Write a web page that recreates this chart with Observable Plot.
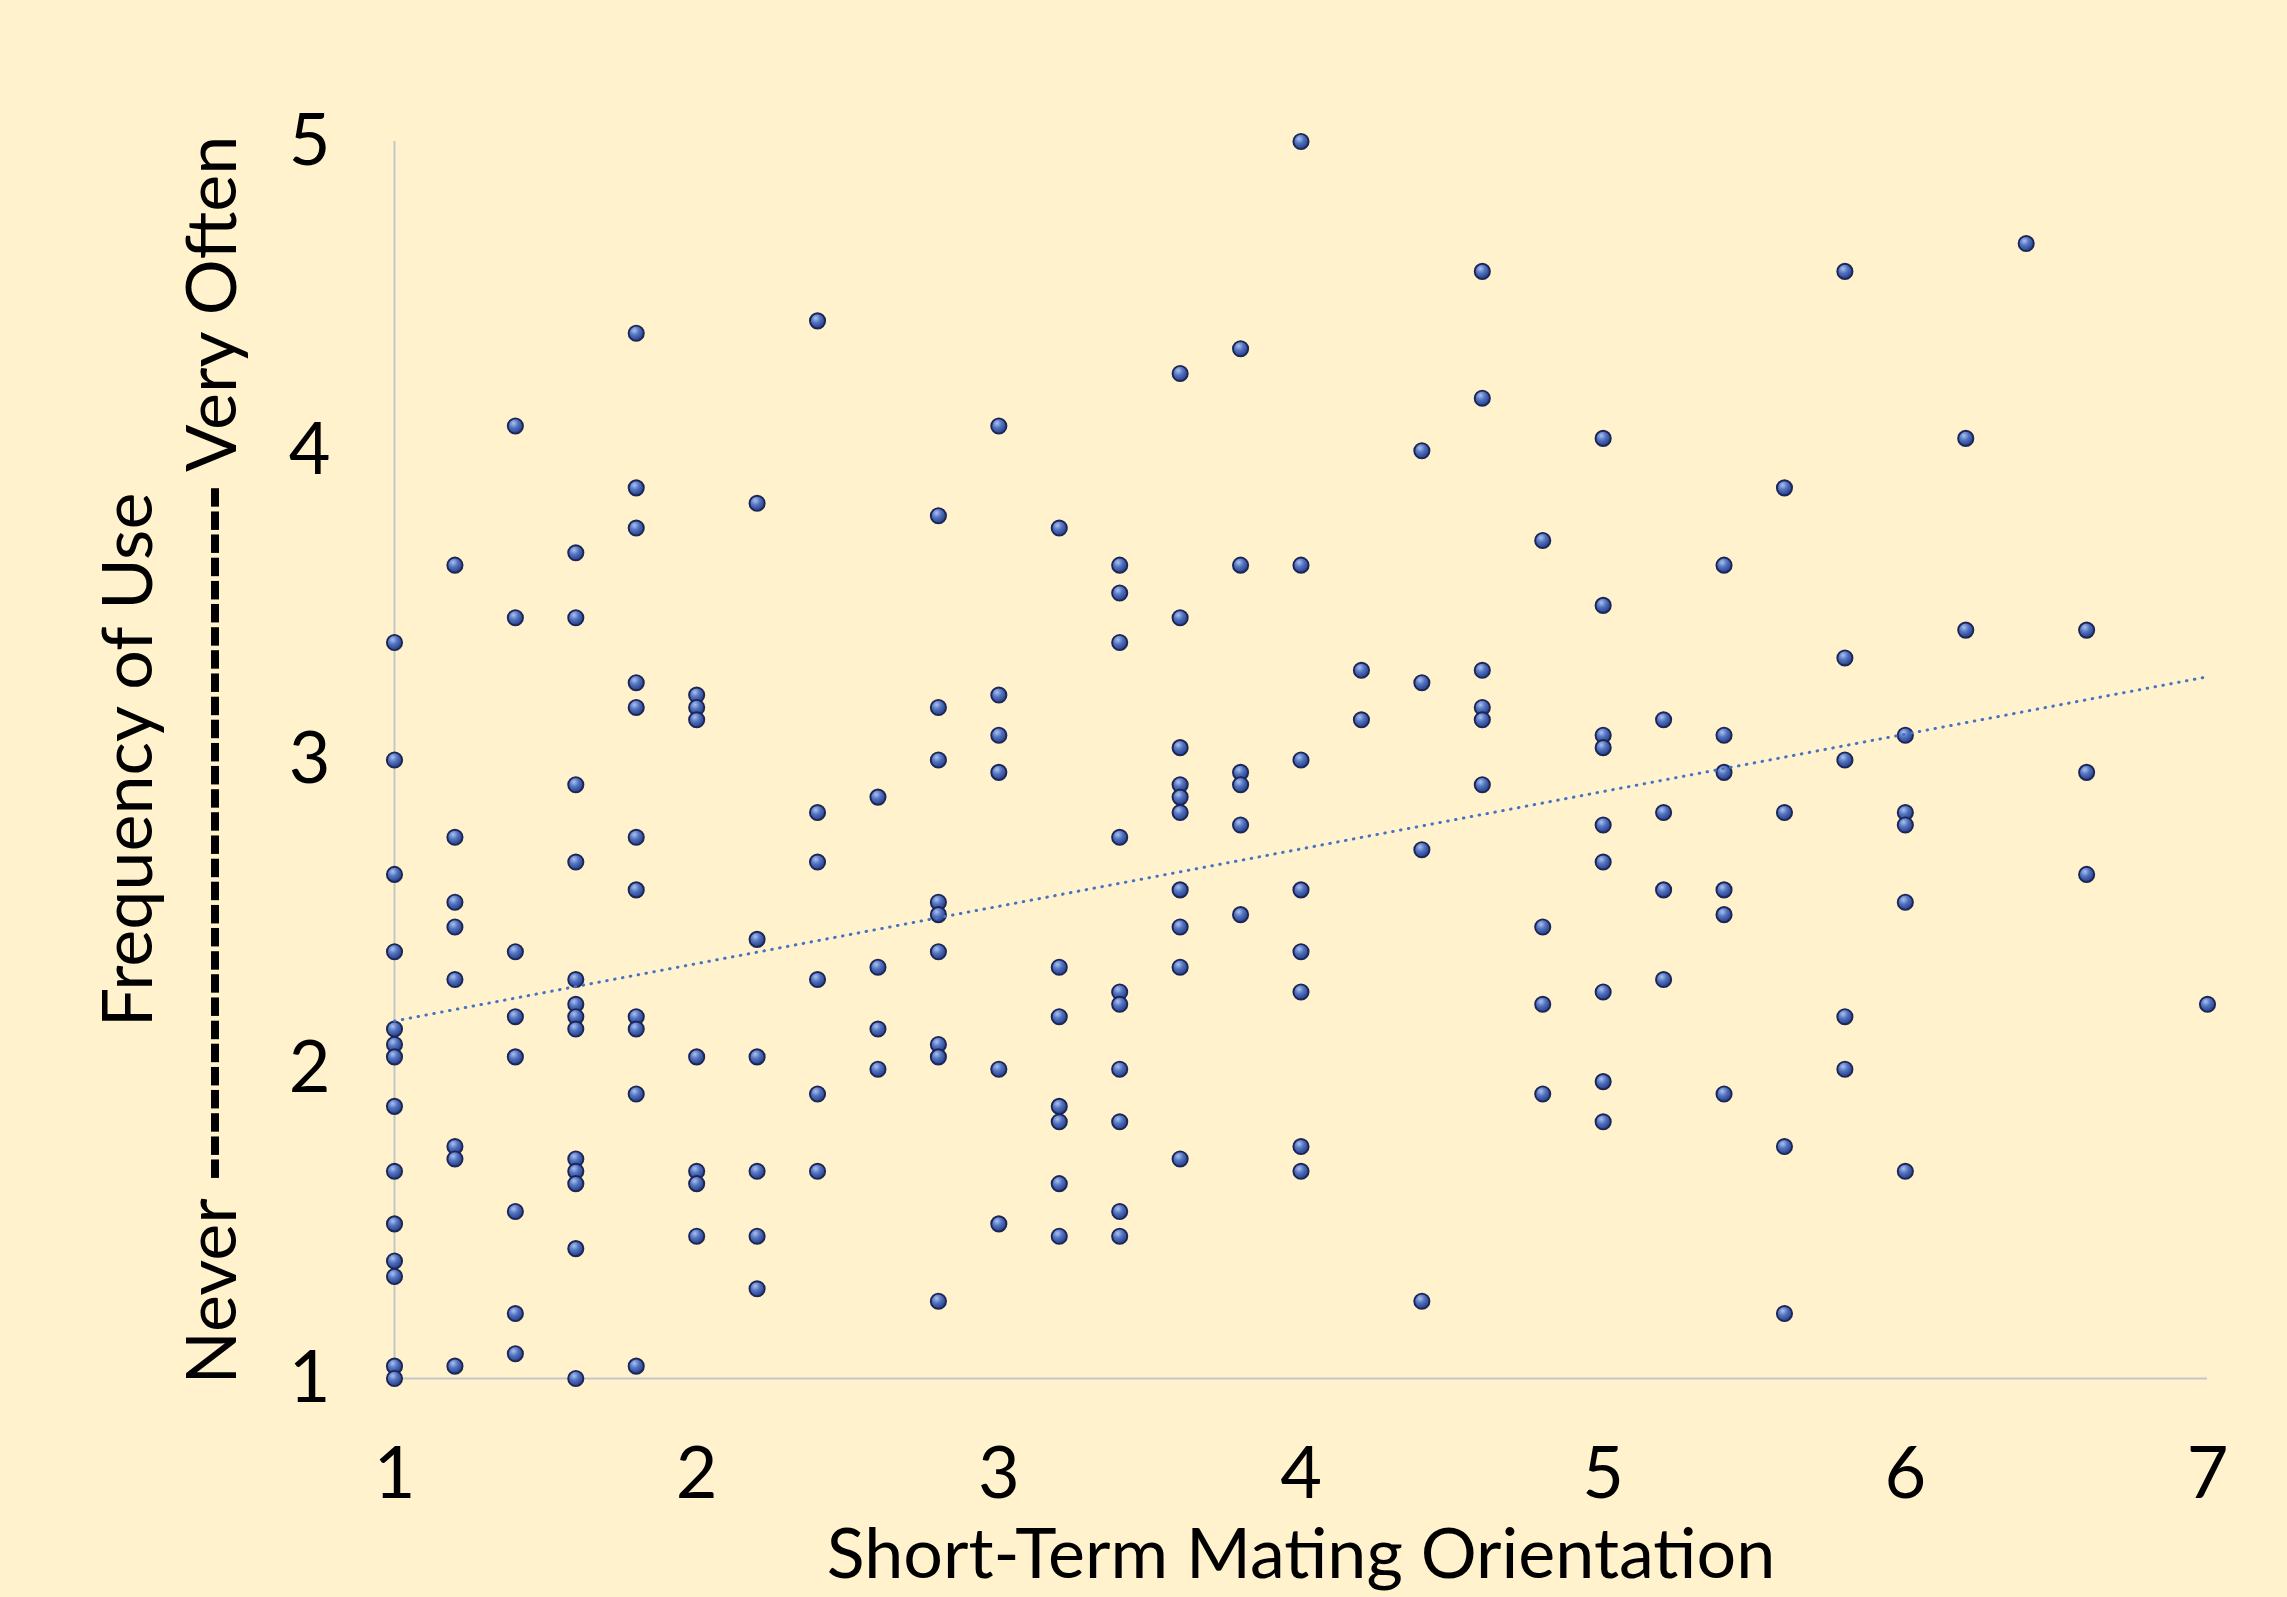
<!DOCTYPE html>
<html><head><meta charset="utf-8">
<script src="https://cdn.jsdelivr.net/npm/d3@7"></script>
<script src="https://cdn.jsdelivr.net/npm/@observablehq/plot@0.6"></script>
<style>
html,body{margin:0;padding:0;background:#FFF2CC;overflow:hidden;}
#chart svg{display:block}
</style></head><body><div id="chart"></div>
<script>
// Short-term mating orientation levels (x) and frequency-of-use scores (y) at each level
const stoLevels = [1, 1.2, 1.4, 1.6, 1.8, 2.0, 2.2, 2.4, 2.6, 2.8, 3.0, 3.2, 3.4, 3.6, 3.8, 4.0, 4.2, 4.4, 4.6, 4.8, 5.0, 5.2, 5.4, 5.6, 5.8, 6.0, 6.2, 6.4, 6.6, 7.0];
const frequencyByLevel = [
  [3.38, 3.0, 2.63, 2.38, 2.13, 2.08, 2.04, 1.88, 1.67, 1.50, 1.38, 1.33, 1.04, 1.0],
  [3.63, 2.75, 2.54, 2.46, 2.29, 1.75, 1.71, 1.04],
  [4.08, 3.46, 2.38, 2.17, 2.04, 1.54, 1.21, 1.08],
  [3.67, 3.46, 2.92, 2.67, 2.29, 2.21, 2.17, 2.13, 1.71, 1.67, 1.63, 1.42, 1.0],
  [4.38, 3.88, 3.75, 3.25, 3.17, 2.75, 2.58, 2.17, 2.13, 1.92, 1.04],
  [3.21, 3.17, 3.13, 2.04, 1.67, 1.63, 1.46],
  [3.83, 2.42, 2.04, 1.67, 1.46, 1.29],
  [4.42, 2.83, 2.67, 2.29, 1.92, 1.67],
  [2.88, 2.33, 2.13, 2.0],
  [3.79, 3.17, 3.0, 2.54, 2.50, 2.38, 2.08, 2.04, 1.25],
  [4.08, 3.21, 3.08, 2.96, 2.0, 1.50],
  [3.75, 2.33, 2.17, 1.88, 1.83, 1.63, 1.46],
  [3.63, 3.54, 3.38, 2.75, 2.25, 2.21, 2.0, 1.83, 1.54, 1.46],
  [4.25, 3.46, 3.04, 2.92, 2.88, 2.83, 2.58, 2.46, 2.33, 1.71],
  [4.33, 3.63, 2.96, 2.92, 2.79, 2.50],
  [5.0, 3.63, 3.0, 2.58, 2.38, 2.25, 1.75, 1.67],
  [3.29, 3.13],
  [4.0, 3.25, 2.71, 1.25],
  [4.58, 4.17, 3.29, 3.17, 3.13, 2.92],
  [3.71, 2.46, 2.21, 1.92],
  [4.04, 3.50, 3.08, 3.04, 2.79, 2.67, 2.25, 1.96, 1.83],
  [3.13, 2.83, 2.58, 2.29],
  [3.63, 3.08, 2.96, 2.58, 2.50, 1.92],
  [3.88, 2.83, 1.75, 1.21],
  [4.58, 3.33, 3.0, 2.17, 2.0],
  [3.08, 2.83, 2.79, 2.54, 1.67],
  [4.04, 3.42],
  [4.67],
  [3.42, 2.96, 2.63],
  [2.21]
];
// Trend line as drawn in the reference (read at its two ends)
const trendX = [1, 7];
const trendY = [2.156, 3.269];
const xTicks = [1, 2, 3, 4, 5, 6, 7];
const yTicks = [1, 2, 3, 4, 5];
const xTitle = "Short-Term Mating Orientation";
const yTitle = "Frequency of Use";
const yScaleWords = ["Never", "Very Often"];
const dashRun = "------------------------------";
const yScaleLabel = yScaleWords[0] + " " + dashRun + " " + yScaleWords[1];

const points = stoLevels.flatMap((x, i) => frequencyByLevel[i].map(y => ({x, y})));
const trend = trendX.map((x, i) => ({x, y: trendY[i]}));

const chart = Plot.plot({
  width: 2287,
  height: 1597,
  marginLeft: 394,
  marginRight: 80,
  marginTop: 141,
  marginBottom: 219,
  style: {background: "#FFF2CC", fontFamily: "Lato, 'Open Sans', sans-serif", color: "#000", overflow: "hidden"},
  x: {domain: [1, 7]},
  y: {domain: [1, 5]},
  marks: [
    Plot.ruleX([1], {stroke: "#C6C6C6", strokeWidth: 2}),
    Plot.ruleY([1], {stroke: "#C6C6CE", strokeWidth: 2}),
    Plot.dot(points, {x: "x", y: "y", r: 7.6, fill: "url(#ball)", stroke: "#1B2656", strokeWidth: 1.9}),
    Plot.line(trend, {x: "x", y: "y", stroke: "#4472C4", strokeWidth: 3, strokeDasharray: "0.5 7.5", strokeLinecap: "round"}),
    Plot.axisX(xTicks, {tickSize: 0, tickPadding: 68, fontSize: 72, tickFormat: d => String(d), label: null}),
    Plot.axisY(yTicks, {tickSize: 0, tickPadding: 0, dx: -85, textAnchor: "middle", fontSize: 72, tickFormat: d => String(d), label: null}),
    Plot.text([xTitle], {frameAnchor: "bottom", textAnchor: "middle", lineAnchor: "top", dy: 150, fontSize: 70}),
    Plot.text([yTitle], {frameAnchor: "left", textAnchor: "middle", rotate: -90, lineAnchor: "top", dx: -292, fontSize: 70}),
    Plot.text([yScaleLabel], {frameAnchor: "left", textAnchor: "middle", rotate: -90, lineAnchor: "top", dx: -208, fontSize: 70})
  ]
});

const svg = d3.select(chart);
const defs = svg.insert("defs", ":first-child");
const grad = defs.append("radialGradient").attr("id", "ball").attr("cx", "38%").attr("cy", "32%").attr("r", "70%");
grad.append("stop").attr("offset", "0%").attr("stop-color", "#A9C0EE");
grad.append("stop").attr("offset", "45%").attr("stop-color", "#5272C0");
grad.append("stop").attr("offset", "100%").attr("stop-color", "#243C84");

svg.selectAll("text").filter(function() { return this.textContent === yScaleLabel; }).each(function() {
  const t = d3.select(this);
  t.text("");
  t.append("tspan").text(yScaleWords[0] + " ");
  t.append("tspan").attr("font-weight", 900).attr("letter-spacing", "-3px").text(dashRun);
  t.append("tspan").text(" " + yScaleWords[1]);
});

document.getElementById("chart").appendChild(chart);
</script>
</body></html>
